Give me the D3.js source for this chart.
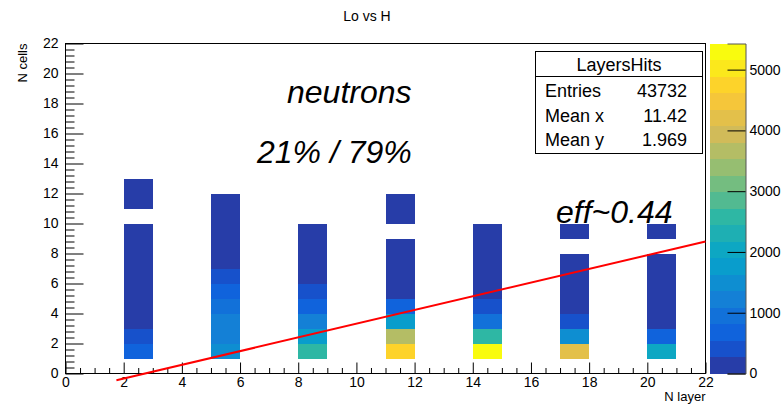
<!DOCTYPE html>
<html lang="en">
<head>
  <meta charset="UTF-8">
  <title>Lo vs H</title>
  <script src="https://cdn.jsdelivr.net/npm/d3@7/dist/d3.min.js"></script>
  <style>
    body {
      margin: 0;
      background: #fff;
    }
    svg {
      font-family: "Liberation Sans", Arial, sans-serif;
    }
    .axis text {
      font-size: 14px;
      fill: #000;
    }
    .axis line {
      stroke: #000;
    }
    .big {
      font-size: 32px;
      font-style: italic;
    }
  </style>
</head>
<body>
  <svg id="chart" width="784" height="405"></svg>
  <script>
    // x bins (low edge of each N layer column)
    const layers = [2, 5, 8, 11, 14, 17, 20]
    // counts per column, index 0 = N cells bin [1,2), index 1 = [2,3) ...  (null = empty)
    const col2  = [690, 410, 95, 70, 55, 40, 30, 25, 20, null, 15, 10]
    const col5  = [1500, 1230, 1210, 960, 690, 400, 120, 80, 50, 30, 15]
    const col8  = [2590, 1780, 1220, 680, 410, 110, 70, 40, 20]
    const col11 = [4740, 3650, 1780, 680, 150, 90, 50, 25, null, 15, 10]
    const col14 = [5430, 2580, 960, 400, 140, 80, 45, 25, 15]
    const col17 = [4200, 1500, 420, 130, 70, 40, 20, null, 10]
    const col20 = [2050, 690, 120, 70, 40, 25, 15, null, 10]
    const columns = [col2, col5, col8, col11, col14, col17, col20]

    const zMax = 5430
    const nContours = 20
    const zTicks = [0, 1000, 2000, 3000, 4000, 5000]
    const xTicks = [0, 2, 4, 6, 8, 10, 12, 14, 16, 18, 20, 22]
    const yTicks = [0, 2, 4, 6, 8, 10, 12, 14, 16, 18, 20, 22]

    // red line
    const lineX = [1.75, 22]
    const lineY = [-0.45, 8.8]

    // stats box
    const statsTitle = 'LayersHits'
    const statsRows = [['Entries', '43732'], ['Mean x', '11.42'], ['Mean y', '1.969']]

    // kBird palette stops
    const birdStops = [0, 0.125, 0.25, 0.375, 0.5, 0.625, 0.75, 0.875, 1]
    const birdR = [0.2082, 0.0592, 0.0780, 0.0232, 0.1802, 0.5301, 0.8186, 0.9956, 0.9764]
    const birdG = [0.1664, 0.3599, 0.5041, 0.6419, 0.7178, 0.7492, 0.7328, 0.7862, 0.9832]
    const birdB = [0.5293, 0.8684, 0.8385, 0.7914, 0.6425, 0.4662, 0.3499, 0.1968, 0.0539]

    const svg = d3.select('#chart')
    const pL = 65.5, pR = 705.5, pT = 43.5, pB = 373.5

    const x = d3.scaleLinear().domain([0, 22]).range([pL, pR])
    const y = d3.scaleLinear().domain([0, 22]).range([pB, pT])
    const z = d3.scaleLinear().domain([0, zMax]).range([pB, pT])

    const bird = d3.scaleLinear()
      .domain(birdStops)
      .range(birdStops.map((s, i) => d3.rgb(birdR[i] * 255, birdG[i] * 255, birdB[i] * 255)))
    const band = d3.scaleQuantize().domain([0, zMax]).range(d3.range(nContours))
    function bandColor(k) {
      let idx = Math.floor((k + 0.99) * 255 / nContours)
      return bird(idx / 254)
    }
    function cellColor(v) {
      return bandColor(band(Math.min(v, zMax - 0.001)))
    }

    // cells
    let cells = []
    columns.forEach((col, i) => {
      col.forEach((v, j) => {
        if (v != null) cells.push({ lx: layers[i], ly: j + 1, v: v })
      })
    })
    svg.append('g')
      .attr('shape-rendering', 'crispEdges')
      .selectAll('rect')
      .data(cells)
      .enter()
      .append('rect')
      .attr('x', d => x(d.lx))
      .attr('y', d => y(d.ly + 1))
      .attr('width', d => x(d.lx + 1) - x(d.lx))
      .attr('height', d => y(d.ly) - y(d.ly + 1))
      .attr('fill', d => cellColor(d.v))

    // axes
    const xMinor = d3.range(0, 22.01, 0.5).filter(v => v % 2 !== 0)
    const yMinor = d3.range(0, 22.01, 0.4).filter(v => Math.abs(v / 2 - Math.round(v / 2)) > 0.01)

    svg.append('g').attr('class', 'axis')
      .attr('transform', `translate(0,${pB})`)
      .call(d3.axisBottom(x).tickValues(xMinor).tickSize(-5.5).tickFormat(''))
      .call(g => g.select('.domain').remove())
    svg.append('g').attr('class', 'axis')
      .attr('transform', `translate(0,${pB})`)
      .call(d3.axisBottom(x).tickValues(xTicks).tickSize(-11).tickPadding(4))
      .call(g => g.select('.domain').remove())

    svg.append('g').attr('class', 'axis')
      .attr('transform', `translate(${pL},0)`)
      .call(d3.axisLeft(y).tickValues(yMinor).tickSize(-9).tickFormat(''))
      .call(g => g.select('.domain').remove())
    svg.append('g').attr('class', 'axis')
      .attr('transform', `translate(${pL},0)`)
      .call(d3.axisLeft(y).tickValues(yTicks).tickSize(-18).tickPadding(7))
      .call(g => g.select('.domain').remove())

    // frame
    svg.append('rect')
      .attr('x', pL).attr('y', pT)
      .attr('width', pR - pL).attr('height', pB - pT)
      .attr('fill', 'none').attr('stroke', '#000').attr('stroke-width', 1)

    // red line
    svg.append('line')
      .attr('x1', x(lineX[0])).attr('y1', y(lineY[0]))
      .attr('x2', x(lineX[1])).attr('y2', y(lineY[1]))
      .attr('stroke', '#ff0000').attr('stroke-width', 2)

    // colour bar
    const cbLeft = 709.5, cbRight = 745.5
    svg.append('g')
      .attr('shape-rendering', 'crispEdges')
      .selectAll('rect')
      .data(d3.range(nContours))
      .enter()
      .append('rect')
      .attr('x', cbLeft)
      .attr('y', k => z((k + 1) * zMax / nContours))
      .attr('width', cbRight - cbLeft)
      .attr('height', k => z(k * zMax / nContours) - z((k + 1) * zMax / nContours))
      .attr('fill', k => bandColor(k))
    svg.append('g').attr('class', 'axis')
      .attr('transform', `translate(${cbRight},0)`)
      .call(d3.axisRight(z).tickValues(zTicks).tickSize(-18).tickPadding(4).tickFormat(d3.format('d')))
      .call(g => g.select('.domain').attr('stroke', '#555'))

    // titles
    svg.append('text').attr('x', 367).attr('y', 21)
      .attr('text-anchor', 'middle').style('font-size', '14px').text('Lo vs H')
    svg.append('text').attr('x', pR).attr('y', 401)
      .attr('text-anchor', 'end').style('font-size', '13px').text('N layer')
    svg.append('text')
      .attr('transform', `translate(27,${pT}) rotate(-90)`)
      .attr('text-anchor', 'end').style('font-size', '13px').text('N cells')

    // annotations
    svg.append('text').attr('class', 'big').attr('x', 287).attr('y', 103).text('neutrons')
    svg.append('text').attr('class', 'big').attr('x', 257).attr('y', 163).text('21% / 79%')
    svg.append('text').attr('class', 'big').attr('x', 556).attr('y', 223).text('eff~0.44')

    // stats box
    const sb = svg.append('g')
    sb.append('rect').attr('x', 535.5).attr('y', 51.5).attr('width', 167).attr('height', 102)
      .attr('fill', '#fff').attr('stroke', '#000')
    sb.append('line').attr('x1', 535.5).attr('x2', 702.5).attr('y1', 76.5).attr('y2', 76.5).attr('stroke', '#000')
    sb.append('text').attr('x', 619).attr('y', 71).attr('text-anchor', 'middle')
      .style('font-size', '18px').text(statsTitle)
    statsRows.forEach((r, i) => {
      sb.append('text').attr('x', 545).attr('y', 97 + i * 24.5).style('font-size', '18px').text(r[0])
      sb.append('text').attr('x', 687).attr('y', 97 + i * 24.5).attr('text-anchor', 'end')
        .style('font-size', '18px').text(r[1])
    })
  </script>
</body>
</html>
